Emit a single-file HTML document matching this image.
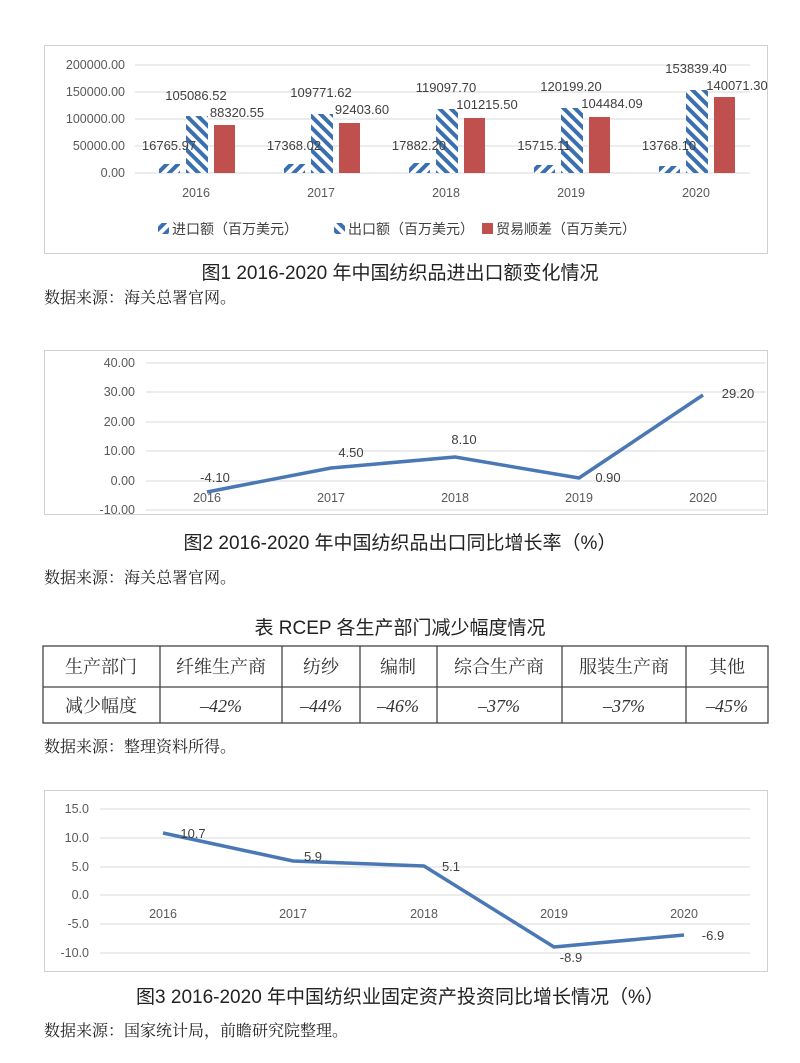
<!DOCTYPE html>
<html><head><meta charset="utf-8"><style>
html,body{margin:0;padding:0;background:#fff;}
svg{display:block;}
.ax{font-family:"Liberation Sans",sans-serif;font-size:12.5px;fill:#595959;}
.dl{font-family:"Liberation Sans",sans-serif;font-size:13px;fill:#404040;}
.cap{font-family:"Liberation Sans","Noto Sans CJK SC",sans-serif;font-size:19px;fill:#222;}
.src{font-family:"Liberation Serif","Noto Serif CJK SC",serif;font-size:16px;fill:#222;}
.tb{font-family:"Liberation Serif","Noto Serif CJK SC",serif;font-size:18px;fill:#333;}
.lg{font-family:"Liberation Sans","Noto Sans CJK SC",sans-serif;font-size:14px;fill:#404040;}
</style></head><body>
<svg width="800" height="1063" viewBox="0 0 800 1063" xmlns="http://www.w3.org/2000/svg">
<defs>
<pattern id="hf" patternUnits="userSpaceOnUse" width="8" height="8" patternTransform="rotate(45)">
<rect width="8" height="8" fill="#fff"/><rect width="4" height="8" fill="#3a6fb0"/></pattern>
<pattern id="hb" patternUnits="userSpaceOnUse" width="8" height="8" patternTransform="rotate(-45)">
<rect width="8" height="8" fill="#fff"/><rect width="4" height="8" fill="#3a6fb0"/></pattern>
</defs>

<!-- Chart 1 -->
<rect x="44.5" y="45.5" width="723" height="208" fill="#fff" stroke="#d0d0d0"/>
<g stroke="#d9d9d9" stroke-width="1">
<line x1="135" x2="750" y1="65" y2="65"/><line x1="135" x2="750" y1="92" y2="92"/>
<line x1="135" x2="750" y1="119" y2="119"/><line x1="135" x2="750" y1="146" y2="146"/>
<line x1="135" x2="750" y1="173" y2="173"/></g>
<g class="ax" text-anchor="end">
<text x="125" y="69">200000.00</text><text x="125" y="96">150000.00</text>
<text x="125" y="123">100000.00</text><text x="125" y="150">50000.00</text><text x="125" y="177">0.00</text></g>
<g class="ax" text-anchor="middle" font-size="13">
<text x="196" y="197">2016</text><text x="321" y="197">2017</text><text x="446" y="197">2018</text><text x="571" y="197">2019</text><text x="696" y="197">2020</text></g>
<!-- bars: scale 108/200000 -->
<g>
<rect x="159" y="164" width="21" height="9" fill="url(#hf)"/>
<rect x="186" y="116" width="22" height="57" fill="url(#hb)"/>
<rect x="214" y="125" width="21" height="48" fill="#c0504d"/>
<rect x="284" y="164" width="21" height="9" fill="url(#hf)"/>
<rect x="311" y="114" width="22" height="59" fill="url(#hb)"/>
<rect x="339" y="123" width="21" height="50" fill="#c0504d"/>
<rect x="409" y="163" width="21" height="10" fill="url(#hf)"/>
<rect x="436" y="109" width="22" height="64" fill="url(#hb)"/>
<rect x="464" y="118" width="21" height="55" fill="#c0504d"/>
<rect x="534" y="165" width="21" height="8" fill="url(#hf)"/>
<rect x="561" y="108" width="22" height="65" fill="url(#hb)"/>
<rect x="589" y="117" width="21" height="56" fill="#c0504d"/>
<rect x="659" y="166" width="21" height="7" fill="url(#hf)"/>
<rect x="686" y="90" width="22" height="83" fill="url(#hb)"/>
<rect x="714" y="97" width="21" height="76" fill="#c0504d"/>
</g>
<g class="dl" text-anchor="middle">
<text x="196" y="100">105086.52</text><text x="237" y="117">88320.55</text><text x="169" y="150">16765.97</text>
<text x="321" y="97">109771.62</text><text x="362" y="114">92403.60</text><text x="294" y="150">17368.02</text>
<text x="446" y="92">119097.70</text><text x="487" y="109">101215.50</text><text x="419" y="150">17882.20</text>
<text x="571" y="91">120199.20</text><text x="612" y="108">104484.09</text><text x="544" y="150">15715.11</text>
<text x="696" y="73">153839.40</text><text x="737" y="90">140071.30</text><text x="669" y="150">13768.10</text>
</g>
<g class="lg">
<rect x="158" y="223" width="11" height="11" fill="url(#hf)"/><text x="172" y="234">进口额（百万美元）</text>
<rect x="334" y="223" width="11" height="11" fill="url(#hb)"/><text x="348" y="234">出口额（百万美元）</text>
<rect x="482" y="223" width="11" height="11" fill="#c0504d"/><text x="496" y="234">贸易顺差（百万美元）</text>
</g>
<text class="cap" x="400" y="279" text-anchor="middle">图1 2016-2020 年中国纺织品进出口额变化情况</text>
<text class="src" x="44" y="303">数据来源：海关总署官网。</text>

<!-- Chart 2 -->
<rect x="44.5" y="350.5" width="723" height="164" fill="#fff" stroke="#d0d0d0"/>
<g stroke="#d9d9d9">
<line x1="146" x2="766" y1="363" y2="363"/><line x1="146" x2="766" y1="392" y2="392"/>
<line x1="146" x2="766" y1="422" y2="422"/><line x1="146" x2="766" y1="451" y2="451"/>
<line x1="146" x2="766" y1="481" y2="481"/><line x1="146" x2="766" y1="510" y2="510"/></g>
<g class="ax" text-anchor="end">
<text x="135" y="367">40.00</text><text x="135" y="396">30.00</text><text x="135" y="426">20.00</text>
<text x="135" y="455">10.00</text><text x="135" y="485">0.00</text><text x="135" y="514">-10.00</text></g>
<g class="ax" text-anchor="middle">
<text x="207" y="502">2016</text><text x="331" y="502">2017</text><text x="455" y="502">2018</text><text x="579" y="502">2019</text><text x="703" y="502">2020</text></g>
<polyline points="207,492 331,468 455,457 579,478 703,395" fill="none" stroke="#4a78b5" stroke-width="3.5" stroke-linejoin="round"/>
<g class="dl" text-anchor="middle">
<text x="215" y="482">-4.10</text><text x="351" y="457">4.50</text><text x="464" y="444">8.10</text>
<text x="608" y="482">0.90</text><text x="738" y="398">29.20</text></g>
<text class="cap" x="400" y="549" text-anchor="middle">图2  2016-2020 年中国纺织品出口同比增长率（%）</text>
<text class="src" x="44" y="583">数据来源：海关总署官网。</text>

<!-- Table -->
<text class="cap" x="400" y="634" text-anchor="middle" font-size="20">表  RCEP 各生产部门减少幅度情况</text>
<g stroke="#444" stroke-width="1.3" fill="none">
<rect x="43" y="646" width="725" height="77"/>
<line x1="43" x2="768" y1="687" y2="687"/>
<line x1="160" x2="160" y1="646" y2="723"/><line x1="282" x2="282" y1="646" y2="723"/>
<line x1="360" x2="360" y1="646" y2="723"/><line x1="437" x2="437" y1="646" y2="723"/>
<line x1="562" x2="562" y1="646" y2="723"/><line x1="686" x2="686" y1="646" y2="723"/></g>
<g class="tb" text-anchor="middle">
<text x="101" y="673">生产部门</text><text x="221" y="673">纤维生产商</text><text x="321" y="673">纺纱</text>
<text x="398" y="673">编制</text><text x="499" y="673">综合生产商</text><text x="624" y="673">服装生产商</text><text x="727" y="673">其他</text>
<text x="101" y="712">减少幅度</text>
<g font-style="italic"><text x="221" y="712">–42%</text><text x="321" y="712">–44%</text><text x="398" y="712">–46%</text>
<text x="499" y="712">–37%</text><text x="624" y="712">–37%</text><text x="727" y="712">–45%</text></g></g>
<text class="src" x="44" y="752">数据来源：整理资料所得。</text>

<!-- Chart 3 -->
<rect x="44.5" y="790.5" width="723" height="181" fill="#fff" stroke="#d0d0d0"/>
<g stroke="#d9d9d9">
<line x1="100" x2="750" y1="809" y2="809"/><line x1="100" x2="750" y1="838" y2="838"/>
<line x1="100" x2="750" y1="867" y2="867"/><line x1="100" x2="750" y1="895" y2="895"/>
<line x1="100" x2="750" y1="924" y2="924"/><line x1="100" x2="750" y1="953" y2="953"/></g>
<g class="ax" text-anchor="end">
<text x="89" y="813">15.0</text><text x="89" y="842">10.0</text><text x="89" y="871">5.0</text>
<text x="89" y="899">0.0</text><text x="89" y="928">-5.0</text><text x="89" y="957">-10.0</text></g>
<g class="ax" text-anchor="middle">
<text x="163" y="918">2016</text><text x="293" y="918">2017</text><text x="424" y="918">2018</text><text x="554" y="918">2019</text><text x="684" y="918">2020</text></g>
<polyline points="163,833 293,861 424,866 554,947 684,935" fill="none" stroke="#4a78b5" stroke-width="3.5" stroke-linejoin="round"/>
<g class="dl" text-anchor="middle">
<text x="193" y="838">10.7</text><text x="313" y="861">5.9</text><text x="451" y="871">5.1</text>
<text x="571" y="962">-8.9</text><text x="713" y="940">-6.9</text></g>
<text class="cap" x="400" y="1003" text-anchor="middle">图3  2016-2020 年中国纺织业固定资产投资同比增长情况（%）</text>
<text class="src" x="44" y="1036">数据来源：国家统计局，前瞻研究院整理。</text>
</svg>
</body></html>
